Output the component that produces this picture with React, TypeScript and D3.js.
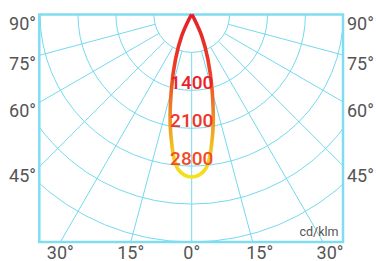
import React, { useEffect, useRef } from 'react';
import * as d3 from 'd3';

// luminous intensity (cd/klm) every 5 degrees, 0 = straight down
const curveAngles = [-40, -35, -30, -25, -20, -15, -10, -5, 0, 5, 10, 15, 20, 25, 30, 35, 40];
const curveValues = [0, 15, 100, 440, 870, 1460, 2230, 2870, 3000, 2870, 2230, 1460, 870, 440, 100, 15, 0];

const ringValues = [700, 1400, 2100, 2800, 3500, 4200];
const ringLabels = [1400, 2100, 2800];
const spokeAngles = [-75, -60, -45, -30, -15, 0, 15, 30, 45, 60, 75];
const sideTicks = [90, 75, 60, 45];
const bottomTicks = [-30, -15, 0, 15, 30];
const unitLabel = 'cd/klm';

const W = 376;
const H = 261;

const App = () => {
  const svgRef = useRef<SVGSVGElement>(null);

  useEffect(() => {
    const svg = d3.select(svgRef.current).attr('width', W).attr('height', H);
    svg.selectAll('*').remove();

    const left = 39.3, right = 343, top = 14.5, bottom = 242;
    const cx = 191.7, cy = top;
    const rad = (a: number) => (a * Math.PI) / 180;

    const r = d3.scaleLinear().domain([0, 4200]).range([0, bottom - cy]);
    const px = (a: number, v: number) => cx + r(v) * Math.sin(rad(a));
    const py = (a: number, v: number) => cy + r(v) * Math.cos(rad(a));

    const grid = '#74d9ef';
    const font = 'Roboto, sans-serif';

    const defs = svg.append('defs');
    defs.append('clipPath').attr('id', 'box')
      .append('rect')
      .attr('x', left).attr('y', top)
      .attr('width', right - left).attr('height', bottom - top);

    const grad = defs.append('linearGradient')
      .attr('id', 'beam')
      .attr('gradientUnits', 'userSpaceOnUse')
      .attr('x1', 0).attr('x2', 0)
      .attr('y1', cy).attr('y2', cy + r(3000));
    [[0, '#e61e2a'], [0.35, '#ec3f27'], [0.6, '#f08424'], [0.82, '#f3c21f'], [1, '#f4e21c']]
      .forEach(([o, c]) => grad.append('stop').attr('offset', o as number).attr('stop-color', c as string));

    // grid
    const g = svg.append('g').attr('clip-path', 'url(#box)');
    g.selectAll('circle')
      .data(ringValues)
      .enter()
      .append('circle')
      .attr('cx', cx).attr('cy', cy)
      .attr('r', d => r(d))
      .attr('fill', 'none')
      .attr('stroke', grid)
      .attr('stroke-width', 1);

    g.selectAll('.spoke')
      .data(spokeAngles)
      .enter()
      .append('line')
      .attr('class', 'spoke')
      .attr('x1', d => px(d, ringValues[0])).attr('y1', d => py(d, ringValues[0]))
      .attr('x2', d => px(d, 9000)).attr('y2', d => py(d, 9000))
      .attr('stroke', grid)
      .attr('stroke-width', 1);

    svg.append('rect')
      .attr('x', left).attr('y', top)
      .attr('width', right - left).attr('height', bottom - top)
      .attr('fill', 'none')
      .attr('stroke', '#80ddf0')
      .attr('stroke-width', 2.5);

    // side labels, where the spokes meet the box edges
    const sideY = (a: number) => cy + (cx - left) / Math.tan(rad(a)) + 15;
    svg.selectAll('.lt')
      .data(sideTicks)
      .enter()
      .append('text')
      .attr('x', 36)
      .attr('y', d => sideY(d))
      .attr('text-anchor', 'end')
      .text(d => d + '°');
    svg.selectAll('.rt')
      .data(sideTicks)
      .enter()
      .append('text')
      .attr('x', 347)
      .attr('y', d => sideY(d))
      .text(d => d + '°');
    svg.selectAll('.bt')
      .data(bottomTicks)
      .enter()
      .append('text')
      .attr('x', d => cx + (bottom - cy) * Math.tan(rad(d)) + (d > 0 ? 7 : 0))
      .attr('y', 258.5)
      .attr('text-anchor', 'middle')
      .text(d => Math.abs(d) + '°');
    svg.selectAll('text')
      .attr('font-family', font)
      .attr('font-size', 18)
      .attr('fill', '#555');

    svg.append('text')
      .attr('x', right - 4.5)
      .attr('y', 236)
      .attr('text-anchor', 'end')
      .attr('font-family', font)
      .attr('font-size', 12.5)
      .attr('fill', '#555')
      .text(unitLabel);

    // light distribution curve
    const pts = curveAngles.map((a, i) => [px(a, curveValues[i]), py(a, curveValues[i])] as [number, number]);
    svg.append('path')
      .attr('d', d3.line().curve(d3.curveCatmullRom.alpha(0.5))(pts))
      .attr('fill', 'none')
      .attr('stroke', 'url(#beam)')
      .attr('stroke-width', 3.6)
      .attr('stroke-linejoin', 'round');

    const labelColor = d3.scaleLinear<string>().domain([1400, 2800]).range(['#ec1f2c', '#f34b27']);
    svg.selectAll('.rl')
      .data(ringLabels)
      .enter()
      .append('text')
      .attr('x', cx)
      .attr('y', d => cy + r(d) - 1)
      .attr('text-anchor', 'middle')
      .attr('font-family', font)
      .attr('font-size', 19)
      .attr('font-weight', 500)
      .attr('fill', d => labelColor(d))
      .text(d => d);
  }, []);

  return <svg ref={svgRef} style={{ position: 'absolute', left: 0, top: 0 }}></svg>;
};

export default App;
